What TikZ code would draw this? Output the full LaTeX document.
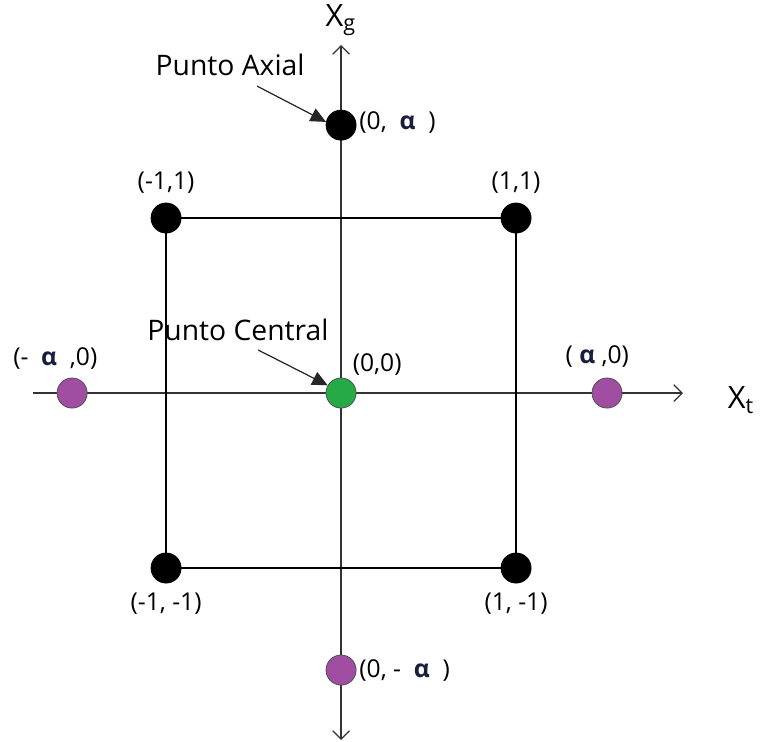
\documentclass[tikz,border=0pt]{standalone}
\usepackage{fontspec}
\setmainfont{Open Sans}
\usetikzlibrary{arrows.meta, positioning}

\definecolor{dotpurple}{RGB}{160,78,162}
\definecolor{dotgreen}{RGB}{38,170,72}
\definecolor{alphablue}{RGB}{25,30,60}
\newcommand{\alp}{{\color{alphablue}\bfseries α}}

\begin{document}
\begin{tikzpicture}[
    x=2.5cm, y=2.5cm,
    pt/.style={circle, draw=black!70, line width=0.3pt, inner sep=0pt, minimum size=0.43cm},
    corner/.style={pt, fill=black, draw=black},
    axial/.style={pt, fill=dotpurple},
    center/.style={pt, fill=dotgreen},
    axis/.style={black!80, line width=0.5pt, >={Straight Barb[length=1.2mm, width=2.4mm]}},
    side/.style={black, line width=0.8pt},
    pointer/.style={-{Triangle[length=2.2mm, width=2mm]}, black!85, line width=0.5pt},
    coord/.style={font=\fontsize{10}{12}\selectfont, inner sep=1pt},
    caption/.style={font=\fontsize{11.5}{13}\selectfont, inner sep=0pt}
]
\useasboundingbox (-1.949,-1.994) rectangle (2.394,2.246);

% axes
\coordinate (xleft) at (-1.76,0);
\coordinate (xright) at (1.954,0);
\coordinate (gbot) at (0,-1.983);
\coordinate (gtop) at (0,1.989);
\draw[axis, ->] (xleft) -- (xright);
\draw[axis, <->] (gbot) -- (gtop);
\node[caption, font=\fontsize{12.5}{14}\selectfont] (xg) at (0,2.131) {X\textsubscript{g}};
\node[caption, font=\fontsize{12.5}{14}\selectfont] (xt) at (2.286,-0.04) {X\textsubscript{t}};

% square
\node[corner] (mp) at (-1,1) {};
\node[corner] (pp) at (1,1) {};
\node[corner] (mm) at (-1,-1) {};
\node[corner] (pm) at (1,-1) {};
\draw[side] (mp) -- (pp) -- (pm) -- (mm) -- (mp);

% axial and central points
\node[corner] (ax) at (0,1.531) {};
\node[axial] (axb) at (0,-1.583) {};
\node[axial] (axl) at (-1.537,0) {};
\node[axial] (axr) at (1.52,0) {};
\node[center] (cen) at (0,0) {};

% labels
\node[coord, above=0.9mm of mp] (lmp) {(-1,1)};
\node[coord, above=0.9mm of pp] (lpp) {(1,1)};
\node[coord, below=0.9mm of mm] (lmm) {(-1,~-1)};
\node[coord, below=0.9mm of pm] (lpm) {(1,~-1)};
\node[coord, right=0pt of ax, yshift=0.4mm] (lax) {(0,~~\alp~~)};
\node[coord, right=0pt of axb] (laxb) {(0,~-~~\alp~~)};
\node[coord, above=0.7mm of axl, xshift=-2.4mm] (laxl) {(-~~\alp~~,0)};
\node[coord, above=1.1mm of axr, xshift=-1.4mm] (laxr) {(~\alp~,0)};
\node[coord, anchor=south west] (lcen) at ([xshift=-0.3mm, yshift=0.6mm]cen.north east) {(0,0)};

% captions
\node[caption] (paxial) at (-0.634,1.874) {Punto Axial};
\node[caption] (pcentral) at (-0.589,0.36) {Punto Central};
\coordinate (paxs) at (-0.48,1.754);
\coordinate (pcens) at (-0.474,0.246);
\draw[pointer] (paxs) -- (ax.168);
\draw[pointer] (pcens) -- (cen.150);

\end{tikzpicture}
\end{document}
